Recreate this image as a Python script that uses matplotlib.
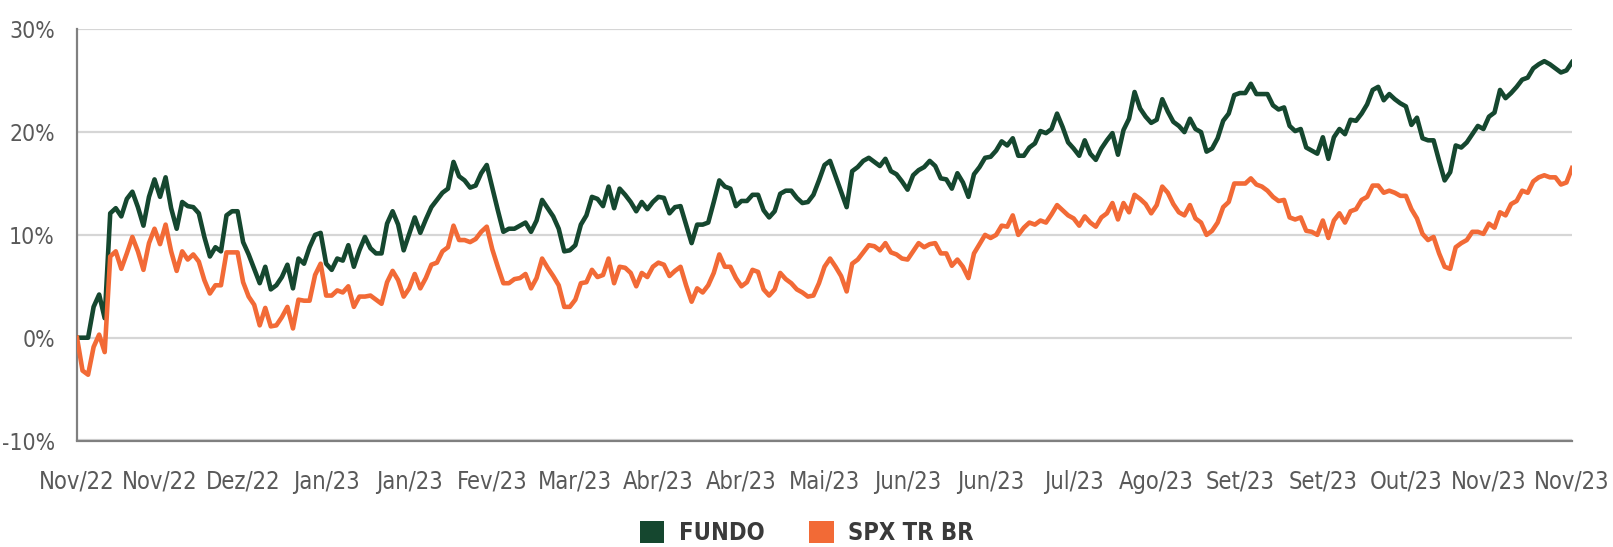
import numpy as np
import matplotlib
matplotlib.use("Agg")
import matplotlib.pyplot as plt
from matplotlib.patches import Patch

plt.rcParams['font.family'] = ['DejaVu Sans']
plt.rcParams['font.stretch'] = 'condensed'

# daily cumulative return (%)
fundo = [
    0, 0, 0, 3.0, 4.2, 1.9, 12.1, 12.6, 11.8, 13.5, 14.2, 12.7, 10.9, 13.7, 15.4, 13.7, 15.6, 12.6, 10.6, 13.2,
    12.8, 12.7, 12.1, 9.8, 7.9, 8.8, 8.4, 11.9, 12.3, 12.3, 9.3, 8.1, 6.7, 5.3, 6.9, 4.7, 5.1,
    5.9, 7.1, 4.8, 7.7, 7.2, 8.8, 10.0, 10.2, 7.2, 6.6, 7.7, 7.5, 9.0, 6.9, 8.5, 9.8, 8.7, 8.2, 8.2, 11.1,
    12.3, 11.0, 8.5, 10.1, 11.7, 10.2, 11.5, 12.7, 13.4, 14.1, 14.5, 17.1, 15.7, 15.3, 14.6, 14.8, 16.0, 16.8,
    14.6, 12.4, 10.3, 10.6, 10.6, 10.9, 11.2, 10.3, 11.4, 13.4, 12.6, 11.8, 10.6, 8.4, 8.5, 9.0, 11.0, 11.9,
    13.7, 13.5, 12.8, 14.7, 12.6, 14.5, 13.9, 13.2, 12.3, 13.2, 12.5, 13.2, 13.7, 13.6, 12.1, 12.7, 12.8, 11.0, 9.2, 11.0,
    11.0, 11.2, 13.2, 15.3, 14.7, 14.5, 12.8, 13.3, 13.3, 13.9, 13.9, 12.4, 11.7, 12.3, 14.0, 14.3, 14.3, 13.6,
    13.1, 13.2, 13.9, 15.3, 16.8, 17.2, 15.7, 14.2, 12.7, 16.2, 16.6, 17.2, 17.5, 17.1, 16.7, 17.4, 16.2, 15.9, 15.2, 14.4,
    15.8, 16.3, 16.6, 17.2, 16.7, 15.5, 15.4, 14.5, 16.0, 15.1, 13.7, 15.9, 16.6, 17.5, 17.6, 18.2, 19.1, 18.7,
    19.4, 17.7, 17.7, 18.5, 18.9, 20.1, 19.9, 20.3, 21.8, 20.5, 19.0, 18.4, 17.7, 19.2, 17.9, 17.3, 18.4, 19.2, 19.9, 17.8,
    20.2, 21.3, 23.9, 22.3, 21.5, 20.9, 21.2, 23.2, 22.0, 21.0, 20.6, 20.0, 21.3, 20.3, 20.0, 18.1, 18.4, 19.4,
    21.1, 21.8, 23.6, 23.8, 23.8, 24.7, 23.7, 23.7, 23.7, 22.6, 22.2, 22.4, 20.6, 20.1, 20.3, 18.5, 18.2, 17.9, 19.5, 17.4,
    19.5, 20.3, 19.8, 21.2, 21.1, 21.8, 22.7, 24.1, 24.4, 23.1, 23.7, 23.2, 22.8, 22.5, 20.7, 21.4, 19.4, 19.2,
    19.2, 17.2, 15.3, 16.1, 18.7, 18.5, 19.0, 19.8, 20.6, 20.3, 21.5, 21.9, 24.1, 23.3, 23.8, 24.4, 25.1, 25.3, 26.2, 26.6,
    26.9, 26.6, 26.2, 25.8, 26.0, 26.8,
]

spx = [
    0, -3.2, -3.6, -0.9, 0.3, -1.4, 7.9, 8.4, 6.7, 8.2, 9.8, 8.4, 6.6, 9.2, 10.6, 9.1, 11.0, 8.4, 6.5, 8.4,
    7.6, 8.1, 7.4, 5.6, 4.3, 5.1, 5.1, 8.3, 8.3, 8.3, 5.4, 4.0, 3.2, 1.2, 2.9, 1.1, 1.2,
    2.0, 3.0, 0.9, 3.7, 3.6, 3.6, 6.1, 7.2, 4.1, 4.1, 4.6, 4.4, 5.0, 3.0, 4.0, 4.0, 4.1, 3.7, 3.3, 5.4,
    6.5, 5.6, 4.0, 4.8, 6.2, 4.8, 5.8, 7.1, 7.3, 8.4, 8.8, 10.9, 9.5, 9.5, 9.3, 9.6, 10.3, 10.8,
    8.6, 6.9, 5.3, 5.3, 5.7, 5.8, 6.2, 4.8, 5.8, 7.7, 6.8, 6.0, 5.1, 3.0, 3.0, 3.7, 5.3, 5.4,
    6.6, 5.9, 6.1, 7.7, 5.3, 6.9, 6.8, 6.3, 5.0, 6.3, 5.9, 6.9, 7.3, 7.1, 6.0, 6.5, 6.9, 5.1, 3.5, 4.8,
    4.4, 5.1, 6.3, 8.1, 6.9, 6.9, 5.8, 5.0, 5.4, 6.6, 6.4, 4.7, 4.1, 4.7, 6.3, 5.7, 5.3, 4.7,
    4.4, 4.0, 4.1, 5.3, 6.9, 7.7, 6.9, 6.0, 4.5, 7.2, 7.6, 8.3, 9.0, 8.9, 8.5, 9.2, 8.3, 8.1, 7.7, 7.6,
    8.4, 9.2, 8.8, 9.1, 9.2, 8.2, 8.2, 7.0, 7.6, 6.9, 5.8, 8.2, 9.1, 10.0, 9.7, 10.0, 10.9, 10.8,
    11.9, 10.0, 10.7, 11.2, 11.0, 11.4, 11.2, 12.0, 12.9, 12.4, 11.9, 11.6, 10.9, 11.8, 11.2, 10.8, 11.7, 12.1, 13.1, 11.5,
    13.1, 12.2, 13.9, 13.5, 13.0, 12.1, 12.9, 14.7, 14.1, 13.0, 12.2, 11.9, 12.9, 11.6, 11.2, 10.0, 10.4, 11.2,
    12.7, 13.2, 15.0, 15.0, 15.0, 15.5, 14.9, 14.7, 14.3, 13.7, 13.3, 13.4, 11.7, 11.5, 11.7, 10.4, 10.3, 10.0, 11.4, 9.7,
    11.4, 12.1, 11.2, 12.3, 12.5, 13.4, 13.7, 14.8, 14.8, 14.1, 14.3, 14.1, 13.8, 13.8, 12.5, 11.6, 10.1, 9.5,
    9.8, 8.2, 6.9, 6.7, 8.8, 9.2, 9.5, 10.3, 10.3, 10.1, 11.1, 10.7, 12.2, 11.9, 13.0, 13.3, 14.3, 14.1, 15.2, 15.6,
    15.8, 15.6, 15.6, 14.9, 15.1, 16.5,
]

month_labels = ['Nov/22', 'Nov/22', 'Dez/22', 'Jan/23', 'Jan/23', 'Fev/23', 'Mar/23', 'Abr/23', 'Abr/23',
                'Mai/23', 'Jun/23', 'Jun/23', 'Jul/23', 'Ago/23', 'Set/23', 'Set/23', 'Out/23', 'Nov/23', 'Nov/23']
y_ticks = [-10, 0, 10, 20, 30]

green = '#15472f'
orange = '#f26a36'
label_color = '#595959'

x = np.arange(len(fundo))

fig = plt.figure(figsize=(16.13, 5.47), dpi=100)
ax = fig.add_axes([77 / 1613, 1 - 440.5 / 547, (1572 - 77) / 1613, (440.5 - 29.3) / 547])

ax.plot(x, fundo, color=green, lw=3.3, zorder=3)
ax.plot(x, spx, color=orange, lw=3.3, zorder=3)

ax.set_xlim(0, len(fundo) - 1)
ax.set_ylim(-10, 30)
ax.set_yticks(y_ticks)
ax.set_yticklabels([f'{v}%' for v in y_ticks])
ax.set_xticks(np.linspace(0, len(fundo) - 1, len(month_labels)))
ax.set_xticklabels(month_labels)

ax.yaxis.grid(True, color='#d6d6d6', lw=1.6, zorder=0)
ax.set_axisbelow(True)
for s in ['top', 'right']:
    ax.spines[s].set_visible(False)
for s in ['left', 'bottom']:
    ax.spines[s].set_color('#808080')
    ax.spines[s].set_linewidth(1.6)

ax.tick_params(axis='y', length=0, pad=16, labelsize=16.5, labelcolor=label_color)
ax.tick_params(axis='x', length=0, pad=21, labelsize=17, labelcolor=label_color)

handles = [Patch(facecolor=green, edgecolor='none', label='FUNDO'),
           Patch(facecolor=orange, edgecolor='none', label='SPX TR BR')]
leg = fig.legend(handles=handles, loc='lower center', bbox_to_anchor=(0.5, -0.035), ncol=2, frameon=False,
                 handlelength=1.05, handleheight=1.1, handletextpad=0.6, columnspacing=1.9,
                 prop={'size': 17, 'weight': 'bold', 'stretch': 'condensed'})
for t in leg.get_texts():
    t.set_color('#3a3a3a')

fig.savefig('out.png', dpi=100)
